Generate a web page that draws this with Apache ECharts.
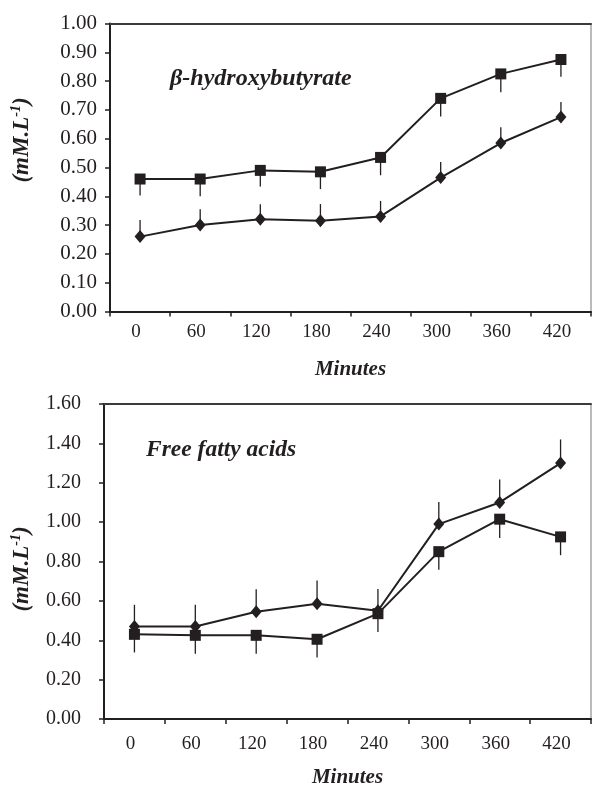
<!DOCTYPE html>
<html>
<head>
<meta charset="utf-8">
<script src="https://cdn.jsdelivr.net/npm/echarts@6/dist/echarts.min.js"></script>
<style>
  html, body { margin: 0; padding: 0; background: #fff; }
  #chart { width: 592px; height: 789px; }
</style>
</head>
<body>
<div id="chart"></div>
<script>
// time points (minutes)
const minutes = ['0', '60', '120', '180', '240', '300', '360', '420']

// beta-hydroxybutyrate (mM.L-1)
const hbSquare = [0.46, 0.46, 0.49, 0.485, 0.535, 0.74, 0.825, 0.875]
const hbSquareErr = [0.057, 0.06, 0.056, 0.06, 0.062, 0.063, 0.064, 0.06]
const hbDiamond = [0.26, 0.30, 0.32, 0.315, 0.33, 0.465, 0.585, 0.675]
const hbDiamondErr = [0.058, 0.055, 0.052, 0.058, 0.054, 0.054, 0.055, 0.052]

// free fatty acids (mM.L-1)
const ffaSquare = [0.43, 0.425, 0.425, 0.405, 0.535, 0.85, 1.015, 0.925]
const ffaSquareErr = [0.092, 0.094, 0.094, 0.092, 0.093, 0.092, 0.096, 0.093]
const ffaDiamond = [0.47, 0.47, 0.545, 0.585, 0.55, 0.99, 1.10, 1.30]
const ffaDiamondErr = [0.11, 0.11, 0.114, 0.118, 0.11, 0.112, 0.117, 0.12]

const ink = '#231f20'
const serif = "'Liberation Serif', 'Times New Roman', serif"

// one-sided error bar: dir = -1 below the point, +1 above
function errorBars (name, gi, vals, errs, dir) {
  return {
    name: name,
    type: 'custom',
    xAxisIndex: gi * 2,
    yAxisIndex: gi,
    silent: true,
    z: 1,
    data: vals.map((v, i) => [i, v, v + dir * errs[i]]),
    encode: { x: 0, y: [1, 2] },
    renderItem: (params, api) => {
      const a = api.coord([api.value(0), api.value(1)])
      const b = api.coord([api.value(0), api.value(2)])
      return {
        type: 'line',
        shape: { x1: a[0], y1: a[1], x2: b[0], y2: b[1] },
        style: { stroke: ink, lineWidth: 1.3 }
      }
    }
  }
}

function lineSeries (name, gi, vals, symbol, size) {
  return {
    name: name,
    type: 'line',
    xAxisIndex: gi * 2,
    yAxisIndex: gi,
    data: vals,
    symbol: symbol,
    symbolSize: size,
    z: 3,
    color: ink,
    lineStyle: { color: ink, width: 2 },
    itemStyle: { color: ink, borderWidth: 0 },
    animation: false
  }
}

function xAxes (gi, labelMargin, nameGap) {
  return [
    {
      type: 'category',
      gridIndex: gi,
      data: minutes,
      boundaryGap: true,
      name: 'Minutes',
      nameLocation: 'middle',
      nameGap: nameGap,
      nameTextStyle: { fontFamily: serif, fontSize: 21, fontWeight: 'bold', fontStyle: 'italic', color: ink },
      axisLine: { lineStyle: { color: ink, width: 2 } },
      axisTick: { show: true, length: 5, lineStyle: { color: ink, width: 1.5 } },
      axisLabel: { fontFamily: serif, fontSize: 19, color: ink, margin: labelMargin, padding: [0, 8, 0, 0] },
      splitLine: { show: false }
    },
    {
      // top frame line
      type: 'category',
      gridIndex: gi,
      position: 'top',
      data: minutes,
      axisLine: { lineStyle: { color: '#3a3a3a', width: 2 } },
      axisTick: { show: false },
      axisLabel: { show: false },
      splitLine: { show: false }
    }
  ]
}

function yAxis (gi, max, interval, labelMargin, fontSize) {
  return {
    type: 'value',
    gridIndex: gi,
    min: 0,
    max: max,
    interval: interval,
    axisLine: { show: true, lineStyle: { color: ink, width: 2 } },
    axisTick: { show: true, length: 5, lineStyle: { color: ink, width: 1.5 } },
    axisLabel: {
      fontFamily: serif,
      fontSize: fontSize,
      color: ink,
      margin: labelMargin,
      formatter: v => v.toFixed(2)
    },
    splitLine: { show: false }
  }
}

function unitLabel (x, y) {
  return {
    type: 'text',
    x: x,
    y: y,
    rotation: Math.PI / 2,
    style: {
      text: '{a|(mM.L}{s|-1}{a|)}',
      align: 'center',
      verticalAlign: 'middle',
      rich: {
        a: { fontFamily: serif, fontSize: 23, fontWeight: 'bold', fontStyle: 'italic', fill: ink, lineHeight: 26 },
        s: { fontFamily: serif, fontSize: 14, fontWeight: 'bold', fontStyle: 'italic', fill: ink, verticalAlign: 'top' }
      }
    }
  }
}

function panelTitle (text, x, y, size) {
  return {
    type: 'text',
    x: x,
    y: y,
    style: {
      text: text,
      fontFamily: serif,
      fontSize: size,
      fontWeight: 'bold',
      fontStyle: 'italic',
      fill: ink,
      align: 'left',
      verticalAlign: 'middle'
    }
  }
}

const chart = echarts.init(document.getElementById('chart'), null, { renderer: 'canvas' })

chart.setOption({
  backgroundColor: '#ffffff',
  animation: false,
  grid: [
    { left: 110, right: 1, top: 23.5, height: 288, show: true, borderColor: '#777', borderWidth: 1 },
    { left: 104, right: 1, top: 404, height: 319, show: true, borderColor: '#777', borderWidth: 1 }
  ],
  xAxis: [].concat(xAxes(0, 11, 48), xAxes(1, 16, 48)),
  yAxis: [
    yAxis(0, 1.0, 0.1, 13, 21),
    yAxis(1, 1.6, 0.2, 23, 20)
  ],
  graphic: [
    panelTitle('β-hydroxybutyrate', 170, 79, 24),
    panelTitle('Free fatty acids', 146, 450, 23.5),
    unitLabel(22, 140),
    unitLabel(22, 569)
  ],
  series: [
    errorBars('Group A error', 0, hbSquare, hbSquareErr, -1),
    errorBars('Group B error', 0, hbDiamond, hbDiamondErr, 1),
    lineSeries('Group A', 0, hbSquare, 'rect', 11),
    lineSeries('Group B', 0, hbDiamond, 'diamond', [11, 13]),
    errorBars('Group A error', 1, ffaSquare, ffaSquareErr, -1),
    errorBars('Group B error', 1, ffaDiamond, ffaDiamondErr, 1),
    lineSeries('Group A', 1, ffaSquare, 'rect', 11),
    lineSeries('Group B', 1, ffaDiamond, 'diamond', [11, 13])
  ]
})
</script>
</body>
</html>
